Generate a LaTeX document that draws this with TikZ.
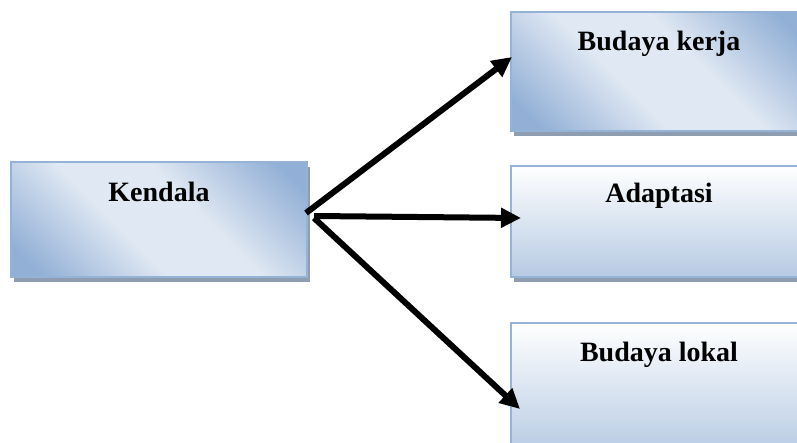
\documentclass[tikz,border=0pt]{standalone}
\usepackage{fontspec}
\setmainfont{Liberation Serif}
\usetikzlibrary{arrows.meta,shadows}
\definecolor{dk}{RGB}{146,176,214}
\definecolor{lt}{RGB}{224,232,243}
\definecolor{bt}{RGB}{182,202,227}
\definecolor{bd}{RGB}{149,179,215}
\definecolor{sh}{RGB}{142,158,176}
\pgfdeclareverticalshading{diagsh}{100bp}{color(0bp)=(dk); color(20bp)=(dk); color(42bp)=(lt); color(58bp)=(lt); color(80bp)=(dk); color(100bp)=(dk)}
\begin{document}
\begin{tikzpicture}[x=1pt,y=-1pt,
  box/.style={draw=bd, line width=1.5pt, rectangle, inner sep=0pt,
    drop shadow={shadow xshift=3pt, shadow yshift=-5pt, fill=sh, opacity=1}},
  diag/.style={box, shade, shading=diagsh, shading angle=-45},
  vert/.style={box, top color=white, bottom color=bt},
  lbl/.style={font=\fontsize{28}{32}\selectfont\bfseries, anchor=base, inner sep=0pt},
  arr/.style={line width=6pt, -{Triangle[length=20pt,width=19pt]}}]
\clip (0,0) rectangle (797,443);
\useasboundingbox (0,0) rectangle (797,443);
\fill[white] (0,0) rectangle (797,443);
% boxes
\node[diag, minimum width=296pt, minimum height=115pt] (k) at (159,219.5) {};
\node[diag, minimum width=296pt, minimum height=119pt] (bk) at (659,71.5) {};
\node[vert, minimum width=296pt, minimum height=111pt] (ad) at (659,221.5) {};
\node[vert, minimum width=296pt, minimum height=131pt] (bl) at (659,388.5) {};
% labels
\node[lbl] (kt) at (159,202) {Kendala};
\node[lbl] (bkt) at (659,51) {Budaya kerja};
\node[lbl] (adt) at (659,203) {Adaptasi};
\node[lbl] (blt) at (659,361) {Budaya lokal};
% connector ends
\coordinate (s1) at (306,213);
\coordinate (s2) at (314,216);
\coordinate (s3) at (314,218);
\coordinate (e1) at (512,57);
\coordinate (e2) at (521,218);
\coordinate (e3) at (520,409);
\draw[arr] (s1) -- (e1);
\draw[arr] (s2) -- (e2);
\draw[arr] (s3) -- (e3);
\end{tikzpicture}
\end{document}
